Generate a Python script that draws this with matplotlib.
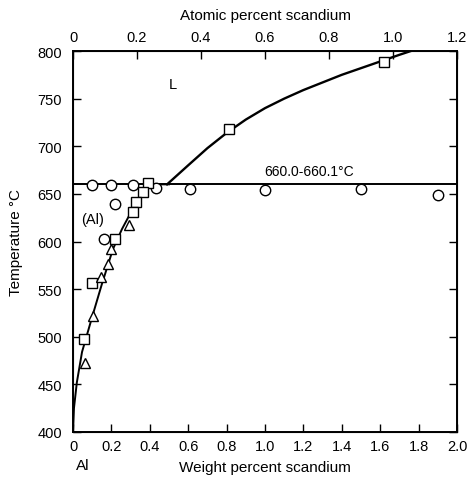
import matplotlib
matplotlib.use('Agg')
import matplotlib.pyplot as plt
import numpy as np

plt.rcParams['font.family'] = ['Liberation Sans', 'DejaVu Sans']

# data (weight percent Sc, temperature C)
solvus_wt = [0.0, 0.005, 0.02, 0.047, 0.1, 0.15, 0.208, 0.255, 0.3, 0.35, 0.4, 0.45, 0.5]
solvus_T = [400, 425, 452, 484, 521, 555, 592, 613, 630, 647, 659, 660, 660]
liquidus_wt = [0.49, 0.6, 0.7, 0.8, 0.9, 1.0, 1.1, 1.2, 1.3, 1.4, 1.5, 1.6, 1.7, 1.76, 1.82]
liquidus_T = [660, 680, 698, 714, 728, 740, 750, 759, 767, 775, 782, 789, 796, 800, 803]
eutectic_T = 660

circle_wt = [0.1, 0.2, 0.31, 0.43, 0.61, 1.0, 1.5, 1.9, 0.22, 0.16]
circle_T = [659, 659, 659, 656, 655, 654, 655, 649, 639, 603]
square_wt = [0.39, 0.365, 0.33, 0.31, 0.22, 0.10, 0.055, 0.81, 1.62]
square_T = [661, 652, 641, 631, 603, 556, 498, 718, 788]
triangle_wt = [0.29, 0.2, 0.18, 0.146, 0.104, 0.06]
triangle_T = [617, 592, 576, 563, 522, 472]

fig = plt.figure(figsize=(4.69, 4.81), dpi=100)
ax = fig.add_axes([73/469, 1-433/481, 384/469, 381/481])

ax.plot(solvus_wt, solvus_T, color='black', lw=1.4, zorder=2)
ax.plot(liquidus_wt, liquidus_T, color='black', lw=1.7, zorder=2)
ax.axhline(eutectic_T, color='black', lw=1.4, zorder=2)

ms = 7.5
ax.plot(circle_wt, circle_T, 'o', mfc='white', mec='black', mew=1.0, ms=ms, zorder=3)
ax.plot(square_wt, square_T, 's', mfc='white', mec='black', mew=1.0, ms=ms, zorder=3)
ax.plot(triangle_wt, triangle_T, '^', mfc='white', mec='black', mew=1.0, ms=ms, zorder=3)

ax.set_xlim(0, 2.0)
ax.set_ylim(400, 800)
ax.set_xticks(np.arange(0, 2.01, 0.2))
ax.set_xticklabels(['0', '0.2', '0.4', '0.6', '0.8', '1.0', '1.2', '1.4', '1.6', '1.8', '2.0'])
ax.set_yticks(np.arange(400, 801, 50))
ax.tick_params(direction='in', length=6, width=1, labelsize=10.5, pad=5)
ax.tick_params(axis='y', right=True, pad=8)
for s in ax.spines.values():
    s.set_linewidth(1.4)

ax.set_ylabel('Temperature °C', fontsize=11, labelpad=10)
ax.set_xlabel('Weight percent scandium', fontsize=11, labelpad=5)

# top axis in atomic percent
top = ax.twiny()
top.set_xlim(0, 1.2)
top.set_xticks(np.arange(0, 1.21, 0.2))
top.set_xticklabels(['0', '0.2', '0.4', '0.6', '0.8', '1.0', '1.2'])
top.tick_params(direction='in', length=6, width=1, labelsize=10.5, pad=5)
top.set_xlabel('Atomic percent scandium', fontsize=11, labelpad=8)

ax.text(0.52, 765, 'L', fontsize=10.5, ha='center', va='center')
ax.text(0.1, 624, '(Al)', fontsize=10.5, ha='center', va='center')
ax.text(1.23, 674, '660.0-660.1°C', fontsize=10, ha='center', va='center')
fig.text(83/469, 1-466/481, 'Al', fontsize=11, ha='center', va='center')

fig.savefig('out.png', dpi=100)
